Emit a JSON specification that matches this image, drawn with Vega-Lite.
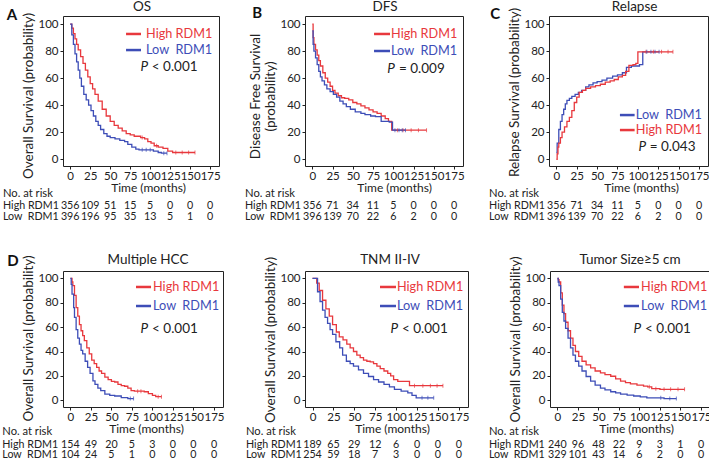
{
"$schema":"https://vega.github.io/schema/vega-lite/v6.json",
"padding":{"left":1,"top":-1,"right":0,"bottom":0},
"config":{"font":"Lato","view":{"stroke":"#222","strokeWidth":1},
"axis":{"grid":false,"domain":false,"tickColor":"#222","tickSize":3,"labelFontSize":11.5,"labelColor":"#222","titleFontWeight":"normal","titleColor":"#222","labelPadding":2,"titlePadding":2,"labelOverlap":false,"labelFlush":false},
"axisX":{"labelPadding":1,"titlePadding":1,"titleFontSize":12},
"axisY":{"titleFontSize":13.5},
"text":{"fontSize":10.7,"color":"#222","baseline":"middle"}},
"datasets":{
"km":[
{"p":"A","g":"High RDM1","t":0,"s":100},{"p":"A","g":"High RDM1","t":2,"s":97},{"p":"A","g":"High RDM1","t":4,"s":93},{"p":"A","g":"High RDM1","t":6,"s":89},{"p":"A","g":"High RDM1","t":8,"s":85},{"p":"A","g":"High RDM1","t":10,"s":81},{"p":"A","g":"High RDM1","t":13,"s":76},{"p":"A","g":"High RDM1","t":16,"s":71},{"p":"A","g":"High RDM1","t":19,"s":66},{"p":"A","g":"High RDM1","t":22,"s":61},{"p":"A","g":"High RDM1","t":25,"s":56},{"p":"A","g":"High RDM1","t":28,"s":52},{"p":"A","g":"High RDM1","t":31,"s":48},{"p":"A","g":"High RDM1","t":35,"s":43},{"p":"A","g":"High RDM1","t":40,"s":37},{"p":"A","g":"High RDM1","t":45,"s":32},{"p":"A","g":"High RDM1","t":50,"s":28},{"p":"A","g":"High RDM1","t":55,"s":25},{"p":"A","g":"High RDM1","t":60,"s":23},{"p":"A","g":"High RDM1","t":65,"s":21},{"p":"A","g":"High RDM1","t":70,"s":19},{"p":"A","g":"High RDM1","t":75,"s":18},{"p":"A","g":"High RDM1","t":80,"s":17},{"p":"A","g":"High RDM1","t":88,"s":16},{"p":"A","g":"High RDM1","t":93,"s":15},{"p":"A","g":"High RDM1","t":97,"s":13},{"p":"A","g":"High RDM1","t":101,"s":12},{"p":"A","g":"High RDM1","t":105,"s":10},{"p":"A","g":"High RDM1","t":110,"s":9},{"p":"A","g":"High RDM1","t":116,"s":8},{"p":"A","g":"High RDM1","t":122,"s":6},{"p":"A","g":"High RDM1","t":128,"s":5},{"p":"A","g":"High RDM1","t":156,"s":5},
{"p":"A","g":"Low RDM1","t":0,"s":100},{"p":"A","g":"Low RDM1","t":2,"s":92},{"p":"A","g":"Low RDM1","t":4,"s":85},{"p":"A","g":"Low RDM1","t":6,"s":78},{"p":"A","g":"Low RDM1","t":8,"s":72},{"p":"A","g":"Low RDM1","t":10,"s":66},{"p":"A","g":"Low RDM1","t":12,"s":60},{"p":"A","g":"Low RDM1","t":14,"s":54},{"p":"A","g":"Low RDM1","t":17,"s":48},{"p":"A","g":"Low RDM1","t":20,"s":44},{"p":"A","g":"Low RDM1","t":23,"s":40},{"p":"A","g":"Low RDM1","t":26,"s":36},{"p":"A","g":"Low RDM1","t":29,"s":32},{"p":"A","g":"Low RDM1","t":32,"s":28},{"p":"A","g":"Low RDM1","t":35,"s":25},{"p":"A","g":"Low RDM1","t":38,"s":22},{"p":"A","g":"Low RDM1","t":42,"s":19},{"p":"A","g":"Low RDM1","t":46,"s":17},{"p":"A","g":"Low RDM1","t":50,"s":16},{"p":"A","g":"Low RDM1","t":56,"s":15},{"p":"A","g":"Low RDM1","t":62,"s":14},{"p":"A","g":"Low RDM1","t":68,"s":13},{"p":"A","g":"Low RDM1","t":72,"s":11},{"p":"A","g":"Low RDM1","t":77,"s":9},{"p":"A","g":"Low RDM1","t":82,"s":7.5},{"p":"A","g":"Low RDM1","t":86,"s":7},{"p":"A","g":"Low RDM1","t":104,"s":6},{"p":"A","g":"Low RDM1","t":110,"s":5},{"p":"A","g":"Low RDM1","t":114,"s":4.5},{"p":"A","g":"Low RDM1","t":121,"s":4.5},
{"p":"B","g":"High RDM1","t":0,"s":100},{"p":"B","g":"High RDM1","t":1,"s":90},{"p":"B","g":"High RDM1","t":2,"s":85},{"p":"B","g":"High RDM1","t":4,"s":81},{"p":"B","g":"High RDM1","t":6,"s":77},{"p":"B","g":"High RDM1","t":8,"s":73},{"p":"B","g":"High RDM1","t":10,"s":69},{"p":"B","g":"High RDM1","t":13,"s":64},{"p":"B","g":"High RDM1","t":16,"s":60},{"p":"B","g":"High RDM1","t":19,"s":57},{"p":"B","g":"High RDM1","t":22,"s":54},{"p":"B","g":"High RDM1","t":25,"s":51},{"p":"B","g":"High RDM1","t":28,"s":49},{"p":"B","g":"High RDM1","t":32,"s":47},{"p":"B","g":"High RDM1","t":36,"s":45.5},{"p":"B","g":"High RDM1","t":40,"s":45},{"p":"B","g":"High RDM1","t":45,"s":44},{"p":"B","g":"High RDM1","t":50,"s":42},{"p":"B","g":"High RDM1","t":55,"s":41},{"p":"B","g":"High RDM1","t":60,"s":39.5},{"p":"B","g":"High RDM1","t":65,"s":38},{"p":"B","g":"High RDM1","t":70,"s":36.5},{"p":"B","g":"High RDM1","t":75,"s":35},{"p":"B","g":"High RDM1","t":80,"s":34},{"p":"B","g":"High RDM1","t":85,"s":32},{"p":"B","g":"High RDM1","t":90,"s":30},{"p":"B","g":"High RDM1","t":94,"s":28},{"p":"B","g":"High RDM1","t":98,"s":21.5},{"p":"B","g":"High RDM1","t":141,"s":21.5},
{"p":"B","g":"Low RDM1","t":0,"s":95},{"p":"B","g":"Low RDM1","t":1,"s":85},{"p":"B","g":"Low RDM1","t":2,"s":80},{"p":"B","g":"Low RDM1","t":4,"s":75},{"p":"B","g":"Low RDM1","t":6,"s":70},{"p":"B","g":"Low RDM1","t":8,"s":65},{"p":"B","g":"Low RDM1","t":10,"s":61},{"p":"B","g":"Low RDM1","t":12,"s":58},{"p":"B","g":"Low RDM1","t":15,"s":55},{"p":"B","g":"Low RDM1","t":18,"s":52},{"p":"B","g":"Low RDM1","t":22,"s":50},{"p":"B","g":"Low RDM1","t":26,"s":48},{"p":"B","g":"Low RDM1","t":30,"s":46},{"p":"B","g":"Low RDM1","t":34,"s":43},{"p":"B","g":"Low RDM1","t":38,"s":41},{"p":"B","g":"Low RDM1","t":42,"s":39},{"p":"B","g":"Low RDM1","t":47,"s":37},{"p":"B","g":"Low RDM1","t":53,"s":35},{"p":"B","g":"Low RDM1","t":60,"s":34},{"p":"B","g":"Low RDM1","t":65,"s":33},{"p":"B","g":"Low RDM1","t":72,"s":32},{"p":"B","g":"Low RDM1","t":78,"s":31.5},{"p":"B","g":"Low RDM1","t":85,"s":28},{"p":"B","g":"Low RDM1","t":95,"s":27.5},{"p":"B","g":"Low RDM1","t":99,"s":21.5},{"p":"B","g":"Low RDM1","t":115,"s":21.5},
{"p":"C","g":"Low RDM1","t":0,"s":5},{"p":"C","g":"Low RDM1","t":1,"s":12},{"p":"C","g":"Low RDM1","t":3,"s":22},{"p":"C","g":"Low RDM1","t":5,"s":28},{"p":"C","g":"Low RDM1","t":7,"s":33},{"p":"C","g":"Low RDM1","t":9,"s":37},{"p":"C","g":"Low RDM1","t":11,"s":41},{"p":"C","g":"Low RDM1","t":13,"s":43.5},{"p":"C","g":"Low RDM1","t":16,"s":45},{"p":"C","g":"Low RDM1","t":19,"s":46.5},{"p":"C","g":"Low RDM1","t":23,"s":48},{"p":"C","g":"Low RDM1","t":27,"s":49.5},{"p":"C","g":"Low RDM1","t":31,"s":51},{"p":"C","g":"Low RDM1","t":36,"s":53.5},{"p":"C","g":"Low RDM1","t":40,"s":55},{"p":"C","g":"Low RDM1","t":45,"s":56.5},{"p":"C","g":"Low RDM1","t":50,"s":57.5},{"p":"C","g":"Low RDM1","t":56,"s":58.5},{"p":"C","g":"Low RDM1","t":62,"s":60},{"p":"C","g":"Low RDM1","t":69,"s":61.5},{"p":"C","g":"Low RDM1","t":75,"s":62.5},{"p":"C","g":"Low RDM1","t":81,"s":64},{"p":"C","g":"Low RDM1","t":86,"s":68},{"p":"C","g":"Low RDM1","t":92,"s":69},{"p":"C","g":"Low RDM1","t":102,"s":70},{"p":"C","g":"Low RDM1","t":106,"s":79.5},{"p":"C","g":"Low RDM1","t":126,"s":79.5},
{"p":"C","g":"High RDM1","t":0,"s":0},{"p":"C","g":"High RDM1","t":1,"s":4},{"p":"C","g":"High RDM1","t":2,"s":9},{"p":"C","g":"High RDM1","t":3,"s":12},{"p":"C","g":"High RDM1","t":5,"s":16},{"p":"C","g":"High RDM1","t":7,"s":20},{"p":"C","g":"High RDM1","t":10,"s":24},{"p":"C","g":"High RDM1","t":13,"s":28},{"p":"C","g":"High RDM1","t":16,"s":31},{"p":"C","g":"High RDM1","t":19,"s":36},{"p":"C","g":"High RDM1","t":22,"s":42},{"p":"C","g":"High RDM1","t":25,"s":46},{"p":"C","g":"High RDM1","t":28,"s":49.5},{"p":"C","g":"High RDM1","t":32,"s":51},{"p":"C","g":"High RDM1","t":36,"s":52.5},{"p":"C","g":"High RDM1","t":42,"s":53.5},{"p":"C","g":"High RDM1","t":48,"s":54.5},{"p":"C","g":"High RDM1","t":54,"s":55.5},{"p":"C","g":"High RDM1","t":60,"s":57},{"p":"C","g":"High RDM1","t":66,"s":58},{"p":"C","g":"High RDM1","t":71,"s":59},{"p":"C","g":"High RDM1","t":76,"s":61},{"p":"C","g":"High RDM1","t":81,"s":62},{"p":"C","g":"High RDM1","t":85,"s":65},{"p":"C","g":"High RDM1","t":89,"s":69.5},{"p":"C","g":"High RDM1","t":94,"s":70},{"p":"C","g":"High RDM1","t":97.5,"s":71},{"p":"C","g":"High RDM1","t":100,"s":79.5},{"p":"C","g":"High RDM1","t":143,"s":79.5},
{"p":"D","g":"High RDM1","t":0,"s":100},{"p":"D","g":"High RDM1","t":2,"s":97},{"p":"D","g":"High RDM1","t":3,"s":94},{"p":"D","g":"High RDM1","t":5,"s":86},{"p":"D","g":"High RDM1","t":7,"s":76},{"p":"D","g":"High RDM1","t":9,"s":69},{"p":"D","g":"High RDM1","t":11,"s":62},{"p":"D","g":"High RDM1","t":13,"s":57},{"p":"D","g":"High RDM1","t":15,"s":53},{"p":"D","g":"High RDM1","t":17,"s":49},{"p":"D","g":"High RDM1","t":20,"s":43},{"p":"D","g":"High RDM1","t":23,"s":38},{"p":"D","g":"High RDM1","t":26,"s":33},{"p":"D","g":"High RDM1","t":29,"s":30},{"p":"D","g":"High RDM1","t":32,"s":27},{"p":"D","g":"High RDM1","t":35,"s":24},{"p":"D","g":"High RDM1","t":38,"s":22},{"p":"D","g":"High RDM1","t":42,"s":19},{"p":"D","g":"High RDM1","t":46,"s":17},{"p":"D","g":"High RDM1","t":50,"s":15.5},{"p":"D","g":"High RDM1","t":54,"s":15},{"p":"D","g":"High RDM1","t":58,"s":13},{"p":"D","g":"High RDM1","t":62,"s":12},{"p":"D","g":"High RDM1","t":66,"s":11.5},{"p":"D","g":"High RDM1","t":70,"s":10},{"p":"D","g":"High RDM1","t":74,"s":8},{"p":"D","g":"High RDM1","t":78,"s":7.5},{"p":"D","g":"High RDM1","t":90,"s":7},{"p":"D","g":"High RDM1","t":95,"s":5.5},{"p":"D","g":"High RDM1","t":100,"s":4},{"p":"D","g":"High RDM1","t":104,"s":3},{"p":"D","g":"High RDM1","t":111,"s":3},
{"p":"D","g":"Low RDM1","t":0,"s":100},{"p":"D","g":"Low RDM1","t":1,"s":95},{"p":"D","g":"Low RDM1","t":2,"s":87},{"p":"D","g":"Low RDM1","t":4,"s":76},{"p":"D","g":"Low RDM1","t":5,"s":68},{"p":"D","g":"Low RDM1","t":7,"s":58},{"p":"D","g":"Low RDM1","t":9,"s":51},{"p":"D","g":"Low RDM1","t":11,"s":46},{"p":"D","g":"Low RDM1","t":13,"s":41},{"p":"D","g":"Low RDM1","t":15,"s":38},{"p":"D","g":"Low RDM1","t":18,"s":32},{"p":"D","g":"Low RDM1","t":21,"s":27},{"p":"D","g":"Low RDM1","t":24,"s":22},{"p":"D","g":"Low RDM1","t":27.5,"s":16},{"p":"D","g":"Low RDM1","t":30,"s":13},{"p":"D","g":"Low RDM1","t":33.5,"s":10},{"p":"D","g":"Low RDM1","t":37,"s":8},{"p":"D","g":"Low RDM1","t":42,"s":5},{"p":"D","g":"Low RDM1","t":48,"s":4},{"p":"D","g":"Low RDM1","t":54,"s":3.5},{"p":"D","g":"Low RDM1","t":62,"s":2.2},{"p":"D","g":"Low RDM1","t":70,"s":1.4},{"p":"D","g":"Low RDM1","t":77,"s":1.4},
{"p":"E","g":"High RDM1","t":0,"s":100},{"p":"E","g":"High RDM1","t":3,"s":100},{"p":"E","g":"High RDM1","t":5,"s":96},{"p":"E","g":"High RDM1","t":8,"s":90},{"p":"E","g":"High RDM1","t":12,"s":82},{"p":"E","g":"High RDM1","t":16,"s":75},{"p":"E","g":"High RDM1","t":20,"s":69},{"p":"E","g":"High RDM1","t":24,"s":62},{"p":"E","g":"High RDM1","t":28.5,"s":56},{"p":"E","g":"High RDM1","t":32,"s":52},{"p":"E","g":"High RDM1","t":36.5,"s":49.5},{"p":"E","g":"High RDM1","t":41,"s":46},{"p":"E","g":"High RDM1","t":45,"s":43},{"p":"E","g":"High RDM1","t":49,"s":40},{"p":"E","g":"High RDM1","t":53,"s":37},{"p":"E","g":"High RDM1","t":57,"s":35},{"p":"E","g":"High RDM1","t":61,"s":33},{"p":"E","g":"High RDM1","t":65,"s":32},{"p":"E","g":"High RDM1","t":69,"s":31.5},{"p":"E","g":"High RDM1","t":73,"s":30},{"p":"E","g":"High RDM1","t":77,"s":28},{"p":"E","g":"High RDM1","t":81,"s":26},{"p":"E","g":"High RDM1","t":85.5,"s":24},{"p":"E","g":"High RDM1","t":90,"s":22},{"p":"E","g":"High RDM1","t":93.5,"s":20},{"p":"E","g":"High RDM1","t":97,"s":17},{"p":"E","g":"High RDM1","t":102,"s":15.5},{"p":"E","g":"High RDM1","t":116,"s":12},{"p":"E","g":"High RDM1","t":156,"s":12},
{"p":"E","g":"Low RDM1","t":0,"s":100},{"p":"E","g":"Low RDM1","t":4,"s":100},{"p":"E","g":"Low RDM1","t":6,"s":89},{"p":"E","g":"Low RDM1","t":9,"s":81},{"p":"E","g":"Low RDM1","t":12,"s":74},{"p":"E","g":"Low RDM1","t":15,"s":68},{"p":"E","g":"Low RDM1","t":18,"s":63},{"p":"E","g":"Low RDM1","t":21,"s":58},{"p":"E","g":"Low RDM1","t":24,"s":54},{"p":"E","g":"Low RDM1","t":28,"s":48},{"p":"E","g":"Low RDM1","t":32.5,"s":43},{"p":"E","g":"Low RDM1","t":36,"s":37},{"p":"E","g":"Low RDM1","t":40.5,"s":32},{"p":"E","g":"Low RDM1","t":45,"s":30},{"p":"E","g":"Low RDM1","t":49,"s":28},{"p":"E","g":"Low RDM1","t":55,"s":25},{"p":"E","g":"Low RDM1","t":61,"s":22},{"p":"E","g":"Low RDM1","t":67,"s":19.5},{"p":"E","g":"Low RDM1","t":73,"s":17},{"p":"E","g":"Low RDM1","t":79,"s":15},{"p":"E","g":"Low RDM1","t":85.5,"s":13},{"p":"E","g":"Low RDM1","t":92,"s":11},{"p":"E","g":"Low RDM1","t":98,"s":9},{"p":"E","g":"Low RDM1","t":106,"s":7.5},{"p":"E","g":"Low RDM1","t":114,"s":6},{"p":"E","g":"Low RDM1","t":119,"s":4},{"p":"E","g":"Low RDM1","t":124,"s":2},{"p":"E","g":"Low RDM1","t":145,"s":2},
{"p":"F","g":"High RDM1","t":0,"s":100},{"p":"F","g":"High RDM1","t":1,"s":99},{"p":"F","g":"High RDM1","t":2,"s":97},{"p":"F","g":"High RDM1","t":4,"s":88},{"p":"F","g":"High RDM1","t":6,"s":78},{"p":"F","g":"High RDM1","t":8,"s":71},{"p":"F","g":"High RDM1","t":10,"s":64},{"p":"F","g":"High RDM1","t":13,"s":57},{"p":"F","g":"High RDM1","t":16,"s":51},{"p":"F","g":"High RDM1","t":19,"s":45},{"p":"F","g":"High RDM1","t":22,"s":40},{"p":"F","g":"High RDM1","t":26,"s":36},{"p":"F","g":"High RDM1","t":30,"s":32},{"p":"F","g":"High RDM1","t":35,"s":29},{"p":"F","g":"High RDM1","t":40.5,"s":26.5},{"p":"F","g":"High RDM1","t":46,"s":24},{"p":"F","g":"High RDM1","t":52.5,"s":22.4},{"p":"F","g":"High RDM1","t":58,"s":21},{"p":"F","g":"High RDM1","t":65,"s":19.7},{"p":"F","g":"High RDM1","t":71,"s":17.5},{"p":"F","g":"High RDM1","t":77,"s":15.7},{"p":"F","g":"High RDM1","t":83,"s":14.5},{"p":"F","g":"High RDM1","t":89,"s":13.5},{"p":"F","g":"High RDM1","t":97,"s":12.5},{"p":"F","g":"High RDM1","t":105,"s":11.6},{"p":"F","g":"High RDM1","t":110,"s":11},{"p":"F","g":"High RDM1","t":115,"s":9.5},{"p":"F","g":"High RDM1","t":125,"s":9},{"p":"F","g":"High RDM1","t":155,"s":9},
{"p":"F","g":"Low RDM1","t":0,"s":100},{"p":"F","g":"Low RDM1","t":1,"s":97},{"p":"F","g":"Low RDM1","t":2,"s":94},{"p":"F","g":"Low RDM1","t":4,"s":83},{"p":"F","g":"Low RDM1","t":6,"s":72},{"p":"F","g":"Low RDM1","t":8,"s":65},{"p":"F","g":"Low RDM1","t":10,"s":59},{"p":"F","g":"Low RDM1","t":13,"s":51},{"p":"F","g":"Low RDM1","t":16,"s":43},{"p":"F","g":"Low RDM1","t":19,"s":37},{"p":"F","g":"Low RDM1","t":22,"s":32},{"p":"F","g":"Low RDM1","t":26,"s":28},{"p":"F","g":"Low RDM1","t":30,"s":24},{"p":"F","g":"Low RDM1","t":35,"s":19.5},{"p":"F","g":"Low RDM1","t":40.5,"s":15.7},{"p":"F","g":"Low RDM1","t":46,"s":12.5},{"p":"F","g":"Low RDM1","t":52.5,"s":10},{"p":"F","g":"Low RDM1","t":58,"s":8.5},{"p":"F","g":"Low RDM1","t":65,"s":7},{"p":"F","g":"Low RDM1","t":71,"s":6},{"p":"F","g":"Low RDM1","t":77,"s":5},{"p":"F","g":"Low RDM1","t":85,"s":4.3},{"p":"F","g":"Low RDM1","t":93,"s":3.5},{"p":"F","g":"Low RDM1","t":101,"s":2.8},{"p":"F","g":"Low RDM1","t":109,"s":2},{"p":"F","g":"Low RDM1","t":120,"s":2},{"p":"F","g":"Low RDM1","t":130,"s":1.4},{"p":"F","g":"Low RDM1","t":145,"s":1.4}
],
"censor":[
{"p":"A","g":"High RDM1","t":90,"s":16},{"p":"A","g":"High RDM1","t":108,"s":10},{"p":"A","g":"High RDM1","t":132,"s":5},{"p":"A","g":"High RDM1","t":140,"s":5},{"p":"A","g":"High RDM1","t":148,"s":5},{"p":"A","g":"High RDM1","t":156,"s":5},
{"p":"A","g":"Low RDM1","t":90,"s":7},{"p":"A","g":"Low RDM1","t":95,"s":7},{"p":"A","g":"Low RDM1","t":100,"s":7},{"p":"A","g":"Low RDM1","t":117,"s":4.5},{"p":"A","g":"Low RDM1","t":121,"s":4.5},
{"p":"B","g":"High RDM1","t":105,"s":21.5},{"p":"B","g":"High RDM1","t":112,"s":21.5},{"p":"B","g":"High RDM1","t":122,"s":21.5},{"p":"B","g":"High RDM1","t":131,"s":21.5},{"p":"B","g":"High RDM1","t":141,"s":21.5},
{"p":"B","g":"Low RDM1","t":102,"s":21.5},{"p":"B","g":"Low RDM1","t":107,"s":21.5},{"p":"B","g":"Low RDM1","t":111,"s":21.5},{"p":"B","g":"Low RDM1","t":115,"s":21.5},
{"p":"C","g":"High RDM1","t":110,"s":79.5},{"p":"C","g":"High RDM1","t":119,"s":79.5},{"p":"C","g":"High RDM1","t":129,"s":79.5},{"p":"C","g":"High RDM1","t":137,"s":79.5},{"p":"C","g":"High RDM1","t":143,"s":79.5},
{"p":"C","g":"Low RDM1","t":111,"s":79.5},{"p":"C","g":"Low RDM1","t":116,"s":79.5},{"p":"C","g":"Low RDM1","t":121,"s":79.5},{"p":"C","g":"Low RDM1","t":126,"s":79.5},
{"p":"D","g":"High RDM1","t":82,"s":7.5},{"p":"D","g":"High RDM1","t":86,"s":7.5},{"p":"D","g":"High RDM1","t":107,"s":3},{"p":"D","g":"High RDM1","t":111,"s":3},
{"p":"D","g":"Low RDM1","t":73,"s":1.4},{"p":"D","g":"Low RDM1","t":77,"s":1.4},
{"p":"E","g":"High RDM1","t":122,"s":12},{"p":"E","g":"High RDM1","t":132,"s":12},{"p":"E","g":"High RDM1","t":141,"s":12},{"p":"E","g":"High RDM1","t":149,"s":12},{"p":"E","g":"High RDM1","t":156,"s":12},
{"p":"E","g":"Low RDM1","t":131,"s":2},{"p":"E","g":"Low RDM1","t":138,"s":2},{"p":"E","g":"Low RDM1","t":145,"s":2},
{"p":"F","g":"High RDM1","t":112,"s":11},{"p":"F","g":"High RDM1","t":120,"s":9.5},{"p":"F","g":"High RDM1","t":130,"s":9},{"p":"F","g":"High RDM1","t":138,"s":9},{"p":"F","g":"High RDM1","t":147,"s":9},{"p":"F","g":"High RDM1","t":155,"s":9},
{"p":"F","g":"Low RDM1","t":126,"s":2},{"p":"F","g":"Low RDM1","t":137,"s":1.4},{"p":"F","g":"Low RDM1","t":145,"s":1.4}
],
"risk":[
{"p":"A","g":"High RDM1","t":0,"n":356},{"p":"A","g":"High RDM1","t":25,"n":109},{"p":"A","g":"High RDM1","t":50,"n":51},{"p":"A","g":"High RDM1","t":75,"n":15},{"p":"A","g":"High RDM1","t":100,"n":5},{"p":"A","g":"High RDM1","t":125,"n":0},{"p":"A","g":"High RDM1","t":150,"n":0},{"p":"A","g":"High RDM1","t":175,"n":0},
{"p":"A","g":"Low RDM1","t":0,"n":396},{"p":"A","g":"Low RDM1","t":25,"n":196},{"p":"A","g":"Low RDM1","t":50,"n":95},{"p":"A","g":"Low RDM1","t":75,"n":35},{"p":"A","g":"Low RDM1","t":100,"n":13},{"p":"A","g":"Low RDM1","t":125,"n":5},{"p":"A","g":"Low RDM1","t":150,"n":1},{"p":"A","g":"Low RDM1","t":175,"n":0},
{"p":"B","g":"High RDM1","t":0,"n":356},{"p":"B","g":"High RDM1","t":25,"n":71},{"p":"B","g":"High RDM1","t":50,"n":34},{"p":"B","g":"High RDM1","t":75,"n":11},{"p":"B","g":"High RDM1","t":100,"n":5},{"p":"B","g":"High RDM1","t":125,"n":0},{"p":"B","g":"High RDM1","t":150,"n":0},{"p":"B","g":"High RDM1","t":175,"n":0},
{"p":"B","g":"Low RDM1","t":0,"n":396},{"p":"B","g":"Low RDM1","t":25,"n":139},{"p":"B","g":"Low RDM1","t":50,"n":70},{"p":"B","g":"Low RDM1","t":75,"n":22},{"p":"B","g":"Low RDM1","t":100,"n":6},{"p":"B","g":"Low RDM1","t":125,"n":2},{"p":"B","g":"Low RDM1","t":150,"n":0},{"p":"B","g":"Low RDM1","t":175,"n":0},
{"p":"C","g":"High RDM1","t":0,"n":356},{"p":"C","g":"High RDM1","t":25,"n":71},{"p":"C","g":"High RDM1","t":50,"n":34},{"p":"C","g":"High RDM1","t":75,"n":11},{"p":"C","g":"High RDM1","t":100,"n":5},{"p":"C","g":"High RDM1","t":125,"n":0},{"p":"C","g":"High RDM1","t":150,"n":0},{"p":"C","g":"High RDM1","t":175,"n":0},
{"p":"C","g":"Low RDM1","t":0,"n":396},{"p":"C","g":"Low RDM1","t":25,"n":139},{"p":"C","g":"Low RDM1","t":50,"n":70},{"p":"C","g":"Low RDM1","t":75,"n":22},{"p":"C","g":"Low RDM1","t":100,"n":6},{"p":"C","g":"Low RDM1","t":125,"n":2},{"p":"C","g":"Low RDM1","t":150,"n":0},{"p":"C","g":"Low RDM1","t":175,"n":0},
{"p":"D","g":"High RDM1","t":0,"n":154},{"p":"D","g":"High RDM1","t":25,"n":49},{"p":"D","g":"High RDM1","t":50,"n":20},{"p":"D","g":"High RDM1","t":75,"n":5},{"p":"D","g":"High RDM1","t":100,"n":3},{"p":"D","g":"High RDM1","t":125,"n":0},{"p":"D","g":"High RDM1","t":150,"n":0},{"p":"D","g":"High RDM1","t":175,"n":0},
{"p":"D","g":"Low RDM1","t":0,"n":104},{"p":"D","g":"Low RDM1","t":25,"n":24},{"p":"D","g":"Low RDM1","t":50,"n":5},{"p":"D","g":"Low RDM1","t":75,"n":1},{"p":"D","g":"Low RDM1","t":100,"n":0},{"p":"D","g":"Low RDM1","t":125,"n":0},{"p":"D","g":"Low RDM1","t":150,"n":0},{"p":"D","g":"Low RDM1","t":175,"n":0},
{"p":"E","g":"High RDM1","t":0,"n":189},{"p":"E","g":"High RDM1","t":25,"n":65},{"p":"E","g":"High RDM1","t":50,"n":29},{"p":"E","g":"High RDM1","t":75,"n":12},{"p":"E","g":"High RDM1","t":100,"n":6},{"p":"E","g":"High RDM1","t":125,"n":0},{"p":"E","g":"High RDM1","t":150,"n":0},{"p":"E","g":"High RDM1","t":175,"n":0},
{"p":"E","g":"Low RDM1","t":0,"n":254},{"p":"E","g":"Low RDM1","t":25,"n":59},{"p":"E","g":"Low RDM1","t":50,"n":18},{"p":"E","g":"Low RDM1","t":75,"n":7},{"p":"E","g":"Low RDM1","t":100,"n":3},{"p":"E","g":"Low RDM1","t":125,"n":0},{"p":"E","g":"Low RDM1","t":150,"n":0},{"p":"E","g":"Low RDM1","t":175,"n":0},
{"p":"F","g":"High RDM1","t":0,"n":240},{"p":"F","g":"High RDM1","t":25,"n":96},{"p":"F","g":"High RDM1","t":50,"n":48},{"p":"F","g":"High RDM1","t":75,"n":22},{"p":"F","g":"High RDM1","t":100,"n":9},{"p":"F","g":"High RDM1","t":125,"n":3},{"p":"F","g":"High RDM1","t":150,"n":1},{"p":"F","g":"High RDM1","t":175,"n":0},
{"p":"F","g":"Low RDM1","t":0,"n":329},{"p":"F","g":"Low RDM1","t":25,"n":101},{"p":"F","g":"Low RDM1","t":50,"n":43},{"p":"F","g":"Low RDM1","t":75,"n":14},{"p":"F","g":"Low RDM1","t":100,"n":6},{"p":"F","g":"Low RDM1","t":125,"n":2},{"p":"F","g":"Low RDM1","t":150,"n":0},{"p":"F","g":"Low RDM1","t":175,"n":0}
]},
"bounds":"flush","spacing":255,
"resolve":{"scale":{"x":"independent","y":"independent"}},
"vconcat":[
{"hconcat":[
{"width":156,"height":150,"data":{"values":[{}]},
"layer":[
{"data":{"name":"km"},"transform":[{"filter":"datum.p==='A'"}],"mark":{"type":"line","interpolate":"step-after","strokeWidth":1.3},
"encoding":{"x":{"field":"t","type":"quantitative","scale":{"domain":[-9,186],"nice":false,"zero":false},"axis":{"title":"Time (months)","values":[0,25,50,75,100,125,150,175],"labelOverlap":false,"titleX":85}},
"y":{"field":"s","type":"quantitative","scale":{"domain":[-5,106],"nice":false,"zero":false},"axis":{"title":"Overall Survival (probability)","values":[0,20,40,60,80,100],"labelOverlap":false,"titleY":79.5}},
"color":{"field":"g","type":"nominal","scale":{"domain":["High RDM1","Low RDM1"],"range":["#e8383d","#3d4db7"]},"legend":null}}},
{"data":{"name":"censor"},"transform":[{"filter":"datum.p==='A'"}],"mark":{"type":"tick","orient":"vertical","size":4,"thickness":1},"encoding":{"x":{"field":"t","type":"quantitative","axis":{"title":"Time (months)","values":[0,25,50,75,100,125,150,175],"labelOverlap":false,"titleX":85}},"y":{"field":"s","type":"quantitative","axis":{"title":"Overall Survival (probability)","values":[0,20,40,60,80,100],"labelOverlap":false,"titleY":79.5}},"color":{"field":"g","type":"nominal","legend":null}}},
{"mark":{"type":"text","text":"OS","fontSize":13.5},"encoding":{"x":{"datum":89.7,"type":"quantitative","axis":{"title":"Time (months)","values":[0,25,50,75,100,125,150,175],"labelOverlap":false,"titleX":85}},"y":{"datum":112.7,"type":"quantitative","axis":{"title":"Overall Survival (probability)","values":[0,20,40,60,80,100],"labelOverlap":false,"titleY":79.5}}}},
{"mark":{"type":"text","text":"A","fontWeight":"bold","fontSize":15,"color":"#111"},"encoding":{"x":{"datum":-72.8,"type":"quantitative","axis":{"title":"Time (months)","values":[0,25,50,75,100,125,150,175],"labelOverlap":false,"titleX":85}},"y":{"datum":106.7,"type":"quantitative","axis":{"title":"Overall Survival (probability)","values":[0,20,40,60,80,100],"labelOverlap":false,"titleY":79.5}}}},
{"mark":{"type":"rule","strokeWidth":2.5},"encoding":{"x":{"datum":69.8,"type":"quantitative","axis":{"title":"Time (months)","values":[0,25,50,75,100,125,150,175],"labelOverlap":false,"titleX":85}},"x2":{"datum":88.5},"y":{"datum":92.7,"type":"quantitative","axis":{"title":"Overall Survival (probability)","values":[0,20,40,60,80,100],"labelOverlap":false,"titleY":79.5}},"color":{"datum":"High RDM1","type":"nominal","legend":null}}},
{"mark":{"type":"rule","strokeWidth":2.5},"encoding":{"x":{"datum":69.8,"type":"quantitative","axis":{"title":"Time (months)","values":[0,25,50,75,100,125,150,175],"labelOverlap":false,"titleX":85}},"x2":{"datum":88.5},"y":{"datum":80.8,"type":"quantitative","axis":{"title":"Overall Survival (probability)","values":[0,20,40,60,80,100],"labelOverlap":false,"titleY":79.5}},"color":{"datum":"Low RDM1","type":"nominal","legend":null}}},
{"mark":{"type":"text","text":"High RDM1","align":"left","fontSize":12.7},"encoding":{"x":{"datum":94.8,"type":"quantitative","axis":{"title":"Time (months)","values":[0,25,50,75,100,125,150,175],"labelOverlap":false,"titleX":85}},"y":{"datum":92.7,"type":"quantitative","axis":{"title":"Overall Survival (probability)","values":[0,20,40,60,80,100],"labelOverlap":false,"titleY":79.5}},"color":{"datum":"High RDM1","type":"nominal","legend":null}}},
{"mark":{"type":"text","text":"Low\u00a0 RDM1","align":"left","fontSize":12.7},"encoding":{"x":{"datum":94.8,"type":"quantitative","axis":{"title":"Time (months)","values":[0,25,50,75,100,125,150,175],"labelOverlap":false,"titleX":85}},"y":{"datum":80.8,"type":"quantitative","axis":{"title":"Overall Survival (probability)","values":[0,20,40,60,80,100],"labelOverlap":false,"titleY":79.5}},"color":{"datum":"Low RDM1","type":"nominal","legend":null}}},
{"mark":{"type":"text","text":"P","align":"right","fontStyle":"italic","fontSize":13.5},"encoding":{"x":{"datum":97.3,"type":"quantitative","axis":{"title":"Time (months)","values":[0,25,50,75,100,125,150,175],"labelOverlap":false,"titleX":85}},"y":{"datum":68.2,"type":"quantitative","axis":{"title":"Overall Survival (probability)","values":[0,20,40,60,80,100],"labelOverlap":false,"titleY":79.5}}}},
{"mark":{"type":"text","text":"< 0.001","align":"left","fontSize":13.5},"encoding":{"x":{"datum":102,"type":"quantitative","axis":{"title":"Time (months)","values":[0,25,50,75,100,125,150,175],"labelOverlap":false,"titleX":85}},"y":{"datum":68.2,"type":"quantitative","axis":{"title":"Overall Survival (probability)","values":[0,20,40,60,80,100],"labelOverlap":false,"titleY":79.5}}}},
{"mark":{"type":"text","text":"No. at risk","align":"left","fontSize":11.2},"encoding":{"x":{"datum":-84,"type":"quantitative","axis":{"title":"Time (months)","values":[0,25,50,75,100,125,150,175],"labelOverlap":false,"titleX":85}},"y":{"datum":-25.8,"type":"quantitative","axis":{"title":"Overall Survival (probability)","values":[0,20,40,60,80,100],"labelOverlap":false,"titleY":79.5}}}},
{"mark":{"type":"text","text":"High RDM1","align":"left"},"encoding":{"x":{"datum":-84,"type":"quantitative","axis":{"title":"Time (months)","values":[0,25,50,75,100,125,150,175],"labelOverlap":false,"titleX":85}},"y":{"datum":-34.6,"type":"quantitative","axis":{"title":"Overall Survival (probability)","values":[0,20,40,60,80,100],"labelOverlap":false,"titleY":79.5}}}},
{"mark":{"type":"text","text":"Low\u00a0 RDM1","align":"left"},"encoding":{"x":{"datum":-84,"type":"quantitative","axis":{"title":"Time (months)","values":[0,25,50,75,100,125,150,175],"labelOverlap":false,"titleX":85}},"y":{"datum":-42.8,"type":"quantitative","axis":{"title":"Overall Survival (probability)","values":[0,20,40,60,80,100],"labelOverlap":false,"titleY":79.5}}}},
{"data":{"name":"risk"},"transform":[{"filter":"datum.p==='A' && datum.g==='High RDM1'"}],"mark":{"type":"text"},"encoding":{"x":{"field":"t","type":"quantitative","axis":{"title":"Time (months)","values":[0,25,50,75,100,125,150,175],"labelOverlap":false,"titleX":85}},"y":{"datum":-34.6,"type":"quantitative","axis":{"title":"Overall Survival (probability)","values":[0,20,40,60,80,100],"labelOverlap":false,"titleY":79.5}},"text":{"field":"n"}}},
{"data":{"name":"risk"},"transform":[{"filter":"datum.p==='A' && datum.g==='Low RDM1'"}],"mark":{"type":"text"},"encoding":{"x":{"field":"t","type":"quantitative","axis":{"title":"Time (months)","values":[0,25,50,75,100,125,150,175],"labelOverlap":false,"titleX":85}},"y":{"datum":-42.8,"type":"quantitative","axis":{"title":"Overall Survival (probability)","values":[0,20,40,60,80,100],"labelOverlap":false,"titleY":79.5}},"text":{"field":"n"}}}
]},
{"width":158,"height":150,"data":{"values":[{}]},
"layer":[
{"data":{"name":"km"},"transform":[{"filter":"datum.p==='B'"}],"mark":{"type":"line","interpolate":"step-after","strokeWidth":1.3},
"encoding":{"x":{"field":"t","type":"quantitative","scale":{"domain":[-9,186],"nice":false,"zero":false},"axis":{"title":"Time (months)","values":[0,25,50,75,100,125,150,175],"labelOverlap":false,"titleX":89}},
"y":{"field":"s","type":"quantitative","scale":{"domain":[-5,106],"nice":false,"zero":false},"axis":{"title":["Disease Free Survival","(probability)"],"values":[0,20,40,60,80,100],"labelOverlap":false,"titleY":80}},
"color":{"field":"g","type":"nominal","legend":null}}},
{"data":{"name":"censor"},"transform":[{"filter":"datum.p==='B'"}],"mark":{"type":"tick","orient":"vertical","size":4,"thickness":1},"encoding":{"x":{"field":"t","type":"quantitative","axis":{"title":"Time (months)","values":[0,25,50,75,100,125,150,175],"labelOverlap":false,"titleX":89}},"y":{"field":"s","type":"quantitative","axis":{"title":["Disease Free Survival","(probability)"],"values":[0,20,40,60,80,100],"labelOverlap":false,"titleY":80}},"color":{"field":"g","type":"nominal","legend":null}}},
{"mark":{"type":"text","text":"DFS","fontSize":13.5},"encoding":{"x":{"datum":89.8,"type":"quantitative","axis":{"title":"Time (months)","values":[0,25,50,75,100,125,150,175],"labelOverlap":false,"titleX":89}},"y":{"datum":112.7,"type":"quantitative","axis":{"title":["Disease Free Survival","(probability)"],"values":[0,20,40,60,80,100],"labelOverlap":false,"titleY":80}}}},
{"mark":{"type":"text","text":"B","fontWeight":"bold","fontSize":15,"color":"#111"},"encoding":{"x":{"datum":-68,"type":"quantitative","axis":{"title":"Time (months)","values":[0,25,50,75,100,125,150,175],"labelOverlap":false,"titleX":89}},"y":{"datum":108,"type":"quantitative","axis":{"title":["Disease Free Survival","(probability)"],"values":[0,20,40,60,80,100],"labelOverlap":false,"titleY":80}}}},
{"mark":{"type":"rule","strokeWidth":2.5},"encoding":{"x":{"datum":76.2,"type":"quantitative","axis":{"title":"Time (months)","values":[0,25,50,75,100,125,150,175],"labelOverlap":false,"titleX":89}},"x2":{"datum":95.9},"y":{"datum":92.7,"type":"quantitative","axis":{"title":["Disease Free Survival","(probability)"],"values":[0,20,40,60,80,100],"labelOverlap":false,"titleY":80}},"color":{"datum":"High RDM1","type":"nominal","legend":null}}},
{"mark":{"type":"rule","strokeWidth":2.5},"encoding":{"x":{"datum":76.2,"type":"quantitative","axis":{"title":"Time (months)","values":[0,25,50,75,100,125,150,175],"labelOverlap":false,"titleX":89}},"x2":{"datum":95.9},"y":{"datum":80.1,"type":"quantitative","axis":{"title":["Disease Free Survival","(probability)"],"values":[0,20,40,60,80,100],"labelOverlap":false,"titleY":80}},"color":{"datum":"Low RDM1","type":"nominal","legend":null}}},
{"mark":{"type":"text","text":"High RDM1","align":"left","fontSize":12.7},"encoding":{"x":{"datum":97.2,"type":"quantitative","axis":{"title":"Time (months)","values":[0,25,50,75,100,125,150,175],"labelOverlap":false,"titleX":89}},"y":{"datum":92.7,"type":"quantitative","axis":{"title":["Disease Free Survival","(probability)"],"values":[0,20,40,60,80,100],"labelOverlap":false,"titleY":80}},"color":{"datum":"High RDM1","type":"nominal","legend":null}}},
{"mark":{"type":"text","text":"Low\u00a0 RDM1","align":"left","fontSize":12.7},"encoding":{"x":{"datum":97.2,"type":"quantitative","axis":{"title":"Time (months)","values":[0,25,50,75,100,125,150,175],"labelOverlap":false,"titleX":89}},"y":{"datum":80.1,"type":"quantitative","axis":{"title":["Disease Free Survival","(probability)"],"values":[0,20,40,60,80,100],"labelOverlap":false,"titleY":80}},"color":{"datum":"Low RDM1","type":"nominal","legend":null}}},
{"mark":{"type":"text","text":"P","align":"right","fontStyle":"italic","fontSize":13.5},"encoding":{"x":{"datum":102,"type":"quantitative","axis":{"title":"Time (months)","values":[0,25,50,75,100,125,150,175],"labelOverlap":false,"titleX":89}},"y":{"datum":66.8,"type":"quantitative","axis":{"title":["Disease Free Survival","(probability)"],"values":[0,20,40,60,80,100],"labelOverlap":false,"titleY":80}}}},
{"mark":{"type":"text","text":"= 0.009","align":"left","fontSize":13.5},"encoding":{"x":{"datum":107,"type":"quantitative","axis":{"title":"Time (months)","values":[0,25,50,75,100,125,150,175],"labelOverlap":false,"titleX":89}},"y":{"datum":66.8,"type":"quantitative","axis":{"title":["Disease Free Survival","(probability)"],"values":[0,20,40,60,80,100],"labelOverlap":false,"titleY":80}}}},
{"mark":{"type":"text","text":"No. at risk","align":"left","fontSize":11.2},"encoding":{"x":{"datum":-83,"type":"quantitative","axis":{"title":"Time (months)","values":[0,25,50,75,100,125,150,175],"labelOverlap":false,"titleX":89}},"y":{"datum":-25.8,"type":"quantitative","axis":{"title":["Disease Free Survival","(probability)"],"values":[0,20,40,60,80,100],"labelOverlap":false,"titleY":80}}}},
{"mark":{"type":"text","text":"High RDM1","align":"left"},"encoding":{"x":{"datum":-83,"type":"quantitative","axis":{"title":"Time (months)","values":[0,25,50,75,100,125,150,175],"labelOverlap":false,"titleX":89}},"y":{"datum":-34.6,"type":"quantitative","axis":{"title":["Disease Free Survival","(probability)"],"values":[0,20,40,60,80,100],"labelOverlap":false,"titleY":80}}}},
{"mark":{"type":"text","text":"Low\u00a0 RDM1","align":"left"},"encoding":{"x":{"datum":-83,"type":"quantitative","axis":{"title":"Time (months)","values":[0,25,50,75,100,125,150,175],"labelOverlap":false,"titleX":89}},"y":{"datum":-42.8,"type":"quantitative","axis":{"title":["Disease Free Survival","(probability)"],"values":[0,20,40,60,80,100],"labelOverlap":false,"titleY":80}}}},
{"data":{"name":"risk"},"transform":[{"filter":"datum.p==='B' && datum.g==='High RDM1'"}],"mark":{"type":"text"},"encoding":{"x":{"field":"t","type":"quantitative","axis":{"title":"Time (months)","values":[0,25,50,75,100,125,150,175],"labelOverlap":false,"titleX":89}},"y":{"datum":-34.6,"type":"quantitative","axis":{"title":["Disease Free Survival","(probability)"],"values":[0,20,40,60,80,100],"labelOverlap":false,"titleY":80}},"text":{"field":"n"}}},
{"data":{"name":"risk"},"transform":[{"filter":"datum.p==='B' && datum.g==='Low RDM1'"}],"mark":{"type":"text"},"encoding":{"x":{"field":"t","type":"quantitative","axis":{"title":"Time (months)","values":[0,25,50,75,100,125,150,175],"labelOverlap":false,"titleX":89}},"y":{"datum":-42.8,"type":"quantitative","axis":{"title":["Disease Free Survival","(probability)"],"values":[0,20,40,60,80,100],"labelOverlap":false,"titleY":80}},"text":{"field":"n"}}}
]},
{"width":159,"height":150,"data":{"values":[{}]},
"layer":[
{"data":{"name":"km"},"transform":[{"filter":"datum.p==='C'"}],"mark":{"type":"line","interpolate":"step-after","strokeWidth":1.3},
"encoding":{"x":{"field":"t","type":"quantitative","scale":{"domain":[-9,186],"nice":false,"zero":false},"axis":{"title":"Time (months)","values":[0,25,50,75,100,125,150,175],"labelOverlap":false,"titleX":92}},
"y":{"field":"s","type":"quantitative","scale":{"domain":[-5,106],"nice":false,"zero":false},"axis":{"title":"Relapse Survival (probability)","values":[0,20,40,60,80,100],"labelOverlap":false,"titleY":76}},
"color":{"field":"g","type":"nominal","legend":null}}},
{"data":{"name":"censor"},"transform":[{"filter":"datum.p==='C'"}],"mark":{"type":"tick","orient":"vertical","size":4,"thickness":1},"encoding":{"x":{"field":"t","type":"quantitative","axis":{"title":"Time (months)","values":[0,25,50,75,100,125,150,175],"labelOverlap":false,"titleX":92}},"y":{"field":"s","type":"quantitative","axis":{"title":"Relapse Survival (probability)","values":[0,20,40,60,80,100],"labelOverlap":false,"titleY":76}},"color":{"field":"g","type":"nominal","legend":null}}},
{"mark":{"type":"text","text":"Relapse","fontSize":13.5},"encoding":{"x":{"datum":96,"type":"quantitative","axis":{"title":"Time (months)","values":[0,25,50,75,100,125,150,175],"labelOverlap":false,"titleX":92}},"y":{"datum":112.7,"type":"quantitative","axis":{"title":"Relapse Survival (probability)","values":[0,20,40,60,80,100],"labelOverlap":false,"titleY":76}}}},
{"mark":{"type":"text","text":"C","fontWeight":"bold","fontSize":15,"color":"#111"},"encoding":{"x":{"datum":-75,"type":"quantitative","axis":{"title":"Time (months)","values":[0,25,50,75,100,125,150,175],"labelOverlap":false,"titleX":92}},"y":{"datum":107.5,"type":"quantitative","axis":{"title":"Relapse Survival (probability)","values":[0,20,40,60,80,100],"labelOverlap":false,"titleY":76}}}},
{"mark":{"type":"rule","strokeWidth":2.5},"encoding":{"x":{"datum":78,"type":"quantitative","axis":{"title":"Time (months)","values":[0,25,50,75,100,125,150,175],"labelOverlap":false,"titleX":92}},"x2":{"datum":96},"y":{"datum":32.7,"type":"quantitative","axis":{"title":"Relapse Survival (probability)","values":[0,20,40,60,80,100],"labelOverlap":false,"titleY":76}},"color":{"datum":"Low RDM1","type":"nominal","legend":null}}},
{"mark":{"type":"rule","strokeWidth":2.5},"encoding":{"x":{"datum":78,"type":"quantitative","axis":{"title":"Time (months)","values":[0,25,50,75,100,125,150,175],"labelOverlap":false,"titleX":92}},"x2":{"datum":96},"y":{"datum":21.6,"type":"quantitative","axis":{"title":"Relapse Survival (probability)","values":[0,20,40,60,80,100],"labelOverlap":false,"titleY":76}},"color":{"datum":"High RDM1","type":"nominal","legend":null}}},
{"mark":{"type":"text","text":"Low\u00a0 RDM1","align":"left","fontSize":12.7},"encoding":{"x":{"datum":97.5,"type":"quantitative","axis":{"title":"Time (months)","values":[0,25,50,75,100,125,150,175],"labelOverlap":false,"titleX":92}},"y":{"datum":32.7,"type":"quantitative","axis":{"title":"Relapse Survival (probability)","values":[0,20,40,60,80,100],"labelOverlap":false,"titleY":76}},"color":{"datum":"Low RDM1","type":"nominal","legend":null}}},
{"mark":{"type":"text","text":"High RDM1","align":"left","fontSize":12.7},"encoding":{"x":{"datum":97.5,"type":"quantitative","axis":{"title":"Time (months)","values":[0,25,50,75,100,125,150,175],"labelOverlap":false,"titleX":92}},"y":{"datum":21.6,"type":"quantitative","axis":{"title":"Relapse Survival (probability)","values":[0,20,40,60,80,100],"labelOverlap":false,"titleY":76}},"color":{"datum":"High RDM1","type":"nominal","legend":null}}},
{"mark":{"type":"text","text":"P","align":"right","fontStyle":"italic","fontSize":13.5},"encoding":{"x":{"datum":110,"type":"quantitative","axis":{"title":"Time (months)","values":[0,25,50,75,100,125,150,175],"labelOverlap":false,"titleX":92}},"y":{"datum":9,"type":"quantitative","axis":{"title":"Relapse Survival (probability)","values":[0,20,40,60,80,100],"labelOverlap":false,"titleY":76}}}},
{"mark":{"type":"text","text":"= 0.043","align":"left","fontSize":13.5},"encoding":{"x":{"datum":114.5,"type":"quantitative","axis":{"title":"Time (months)","values":[0,25,50,75,100,125,150,175],"labelOverlap":false,"titleX":92}},"y":{"datum":9,"type":"quantitative","axis":{"title":"Relapse Survival (probability)","values":[0,20,40,60,80,100],"labelOverlap":false,"titleY":76}}}},
{"mark":{"type":"text","text":"No. at risk","align":"left","fontSize":11.2},"encoding":{"x":{"datum":-82.5,"type":"quantitative","axis":{"title":"Time (months)","values":[0,25,50,75,100,125,150,175],"labelOverlap":false,"titleX":92}},"y":{"datum":-25.8,"type":"quantitative","axis":{"title":"Relapse Survival (probability)","values":[0,20,40,60,80,100],"labelOverlap":false,"titleY":76}}}},
{"mark":{"type":"text","text":"High RDM1","align":"left"},"encoding":{"x":{"datum":-82.5,"type":"quantitative","axis":{"title":"Time (months)","values":[0,25,50,75,100,125,150,175],"labelOverlap":false,"titleX":92}},"y":{"datum":-34.6,"type":"quantitative","axis":{"title":"Relapse Survival (probability)","values":[0,20,40,60,80,100],"labelOverlap":false,"titleY":76}}}},
{"mark":{"type":"text","text":"Low\u00a0 RDM1","align":"left"},"encoding":{"x":{"datum":-82.5,"type":"quantitative","axis":{"title":"Time (months)","values":[0,25,50,75,100,125,150,175],"labelOverlap":false,"titleX":92}},"y":{"datum":-42.8,"type":"quantitative","axis":{"title":"Relapse Survival (probability)","values":[0,20,40,60,80,100],"labelOverlap":false,"titleY":76}}}},
{"data":{"name":"risk"},"transform":[{"filter":"datum.p==='C' && datum.g==='High RDM1'"}],"mark":{"type":"text"},"encoding":{"x":{"field":"t","type":"quantitative","axis":{"title":"Time (months)","values":[0,25,50,75,100,125,150,175],"labelOverlap":false,"titleX":92}},"y":{"datum":-34.6,"type":"quantitative","axis":{"title":"Relapse Survival (probability)","values":[0,20,40,60,80,100],"labelOverlap":false,"titleY":76}},"text":{"field":"n"}}},
{"data":{"name":"risk"},"transform":[{"filter":"datum.p==='C' && datum.g==='Low RDM1'"}],"mark":{"type":"text"},"encoding":{"x":{"field":"t","type":"quantitative","axis":{"title":"Time (months)","values":[0,25,50,75,100,125,150,175],"labelOverlap":false,"titleX":92}},"y":{"datum":-42.8,"type":"quantitative","axis":{"title":"Relapse Survival (probability)","values":[0,20,40,60,80,100],"labelOverlap":false,"titleY":76}},"text":{"field":"n"}}}
]}
],"spacing":86,"bounds":"flush","resolve":{"scale":{"x":"independent","y":"independent"}}},
{"hconcat":[
{"width":160,"height":136,"data":{"values":[{}]},
"layer":[
{"data":{"name":"km"},"transform":[{"filter":"datum.p==='D'"}],"mark":{"type":"line","interpolate":"step-after","strokeWidth":1.3},
"encoding":{"x":{"field":"t","type":"quantitative","scale":{"domain":[-9,186],"nice":false,"zero":false},"axis":{"title":"Time (months)","values":[0,25,50,75,100,125,150,175],"labelOverlap":false,"titleX":83}},
"y":{"field":"s","type":"quantitative","scale":{"domain":[-5.5,106],"nice":false,"zero":false},"axis":{"title":"Overall Survival (probability)","values":[0,20,40,60,80,100],"labelOverlap":false,"titleY":67}},
"color":{"field":"g","type":"nominal","legend":null}}},
{"data":{"name":"censor"},"transform":[{"filter":"datum.p==='D'"}],"mark":{"type":"tick","orient":"vertical","size":4,"thickness":1},"encoding":{"x":{"field":"t","type":"quantitative","axis":{"title":"Time (months)","values":[0,25,50,75,100,125,150,175],"labelOverlap":false,"titleX":83}},"y":{"field":"s","type":"quantitative","axis":{"title":"Overall Survival (probability)","values":[0,20,40,60,80,100],"labelOverlap":false,"titleY":67}},"color":{"field":"g","type":"nominal","legend":null}}},
{"mark":{"type":"text","text":"Multiple HCC","fontSize":13.5},"encoding":{"x":{"datum":94.6,"type":"quantitative","axis":{"title":"Time (months)","values":[0,25,50,75,100,125,150,175],"labelOverlap":false,"titleX":83}},"y":{"datum":115,"type":"quantitative","axis":{"title":"Overall Survival (probability)","values":[0,20,40,60,80,100],"labelOverlap":false,"titleY":67}}}},
{"mark":{"type":"text","text":"D","fontWeight":"bold","fontSize":15,"color":"#111"},"encoding":{"x":{"datum":-70,"type":"quantitative","axis":{"title":"Time (months)","values":[0,25,50,75,100,125,150,175],"labelOverlap":false,"titleX":83}},"y":{"datum":114,"type":"quantitative","axis":{"title":"Overall Survival (probability)","values":[0,20,40,60,80,100],"labelOverlap":false,"titleY":67}}}},
{"mark":{"type":"rule","strokeWidth":2.5},"encoding":{"x":{"datum":80,"type":"quantitative","axis":{"title":"Time (months)","values":[0,25,50,75,100,125,150,175],"labelOverlap":false,"titleX":83}},"x2":{"datum":98.3},"y":{"datum":92.9,"type":"quantitative","axis":{"title":"Overall Survival (probability)","values":[0,20,40,60,80,100],"labelOverlap":false,"titleY":67}},"color":{"datum":"High RDM1","type":"nominal","legend":null}}},
{"mark":{"type":"rule","strokeWidth":2.5},"encoding":{"x":{"datum":80,"type":"quantitative","axis":{"title":"Time (months)","values":[0,25,50,75,100,125,150,175],"labelOverlap":false,"titleX":83}},"x2":{"datum":98.3},"y":{"datum":77.3,"type":"quantitative","axis":{"title":"Overall Survival (probability)","values":[0,20,40,60,80,100],"labelOverlap":false,"titleY":67}},"color":{"datum":"Low RDM1","type":"nominal","legend":null}}},
{"mark":{"type":"text","text":"High RDM1","align":"left","fontSize":12.7},"encoding":{"x":{"datum":100.7,"type":"quantitative","axis":{"title":"Time (months)","values":[0,25,50,75,100,125,150,175],"labelOverlap":false,"titleX":83}},"y":{"datum":92.9,"type":"quantitative","axis":{"title":"Overall Survival (probability)","values":[0,20,40,60,80,100],"labelOverlap":false,"titleY":67}},"color":{"datum":"High RDM1","type":"nominal","legend":null}}},
{"mark":{"type":"text","text":"Low\u00a0 RDM1","align":"left","fontSize":12.7},"encoding":{"x":{"datum":100.7,"type":"quantitative","axis":{"title":"Time (months)","values":[0,25,50,75,100,125,150,175],"labelOverlap":false,"titleX":83}},"y":{"datum":77.3,"type":"quantitative","axis":{"title":"Overall Survival (probability)","values":[0,20,40,60,80,100],"labelOverlap":false,"titleY":67}},"color":{"datum":"Low RDM1","type":"nominal","legend":null}}},
{"mark":{"type":"text","text":"P","align":"right","fontStyle":"italic","fontSize":13.5},"encoding":{"x":{"datum":94.6,"type":"quantitative","axis":{"title":"Time (months)","values":[0,25,50,75,100,125,150,175],"labelOverlap":false,"titleX":83}},"y":{"datum":58.5,"type":"quantitative","axis":{"title":"Overall Survival (probability)","values":[0,20,40,60,80,100],"labelOverlap":false,"titleY":67}}}},
{"mark":{"type":"text","text":"< 0.001","align":"left","fontSize":13.5},"encoding":{"x":{"datum":99.5,"type":"quantitative","axis":{"title":"Time (months)","values":[0,25,50,75,100,125,150,175],"labelOverlap":false,"titleX":83}},"y":{"datum":58.5,"type":"quantitative","axis":{"title":"Overall Survival (probability)","values":[0,20,40,60,80,100],"labelOverlap":false,"titleY":67}}}},
{"mark":{"type":"text","text":"No. at risk","align":"left","fontSize":11.2},"encoding":{"x":{"datum":-83,"type":"quantitative","axis":{"title":"Time (months)","values":[0,25,50,75,100,125,150,175],"labelOverlap":false,"titleX":83}},"y":{"datum":-26,"type":"quantitative","axis":{"title":"Overall Survival (probability)","values":[0,20,40,60,80,100],"labelOverlap":false,"titleY":67}}}},
{"mark":{"type":"text","text":"High RDM1","align":"left"},"encoding":{"x":{"datum":-83,"type":"quantitative","axis":{"title":"Time (months)","values":[0,25,50,75,100,125,150,175],"labelOverlap":false,"titleX":83}},"y":{"datum":-36.6,"type":"quantitative","axis":{"title":"Overall Survival (probability)","values":[0,20,40,60,80,100],"labelOverlap":false,"titleY":67}}}},
{"mark":{"type":"text","text":"Low\u00a0 RDM1","align":"left"},"encoding":{"x":{"datum":-83,"type":"quantitative","axis":{"title":"Time (months)","values":[0,25,50,75,100,125,150,175],"labelOverlap":false,"titleX":83}},"y":{"datum":-44.8,"type":"quantitative","axis":{"title":"Overall Survival (probability)","values":[0,20,40,60,80,100],"labelOverlap":false,"titleY":67}}}},
{"data":{"name":"risk"},"transform":[{"filter":"datum.p==='D' && datum.g==='High RDM1'"}],"mark":{"type":"text"},"encoding":{"x":{"field":"t","type":"quantitative","axis":{"title":"Time (months)","values":[0,25,50,75,100,125,150,175],"labelOverlap":false,"titleX":83}},"y":{"datum":-36.6,"type":"quantitative","axis":{"title":"Overall Survival (probability)","values":[0,20,40,60,80,100],"labelOverlap":false,"titleY":67}},"text":{"field":"n"}}},
{"data":{"name":"risk"},"transform":[{"filter":"datum.p==='D' && datum.g==='Low RDM1'"}],"mark":{"type":"text"},"encoding":{"x":{"field":"t","type":"quantitative","axis":{"title":"Time (months)","values":[0,25,50,75,100,125,150,175],"labelOverlap":false,"titleX":83}},"y":{"datum":-44.8,"type":"quantitative","axis":{"title":"Overall Survival (probability)","values":[0,20,40,60,80,100],"labelOverlap":false,"titleY":67}},"text":{"field":"n"}}}
]},
{"width":163,"height":136,"data":{"values":[{}]},
"layer":[
{"data":{"name":"km"},"transform":[{"filter":"datum.p==='E'"}],"mark":{"type":"line","interpolate":"step-after","strokeWidth":1.3},
"encoding":{"x":{"field":"t","type":"quantitative","scale":{"domain":[-9,186],"nice":false,"zero":false},"axis":{"title":"Time (months)","values":[0,25,50,75,100,125,150,175],"labelOverlap":false,"titleX":87}},
"y":{"field":"s","type":"quantitative","scale":{"domain":[-5.5,106],"nice":false,"zero":false},"axis":{"title":"Overall Survival (probability)","values":[0,20,40,60,80,100],"labelOverlap":false,"titleY":68.5}},
"color":{"field":"g","type":"nominal","legend":null}}},
{"data":{"name":"censor"},"transform":[{"filter":"datum.p==='E'"}],"mark":{"type":"tick","orient":"vertical","size":4,"thickness":1},"encoding":{"x":{"field":"t","type":"quantitative","axis":{"title":"Time (months)","values":[0,25,50,75,100,125,150,175],"labelOverlap":false,"titleX":87}},"y":{"field":"s","type":"quantitative","axis":{"title":"Overall Survival (probability)","values":[0,20,40,60,80,100],"labelOverlap":false,"titleY":68.5}},"color":{"field":"g","type":"nominal","legend":null}}},
{"mark":{"type":"text","text":"TNM II-IV","fontSize":13.5},"encoding":{"x":{"datum":92.7,"type":"quantitative","axis":{"title":"Time (months)","values":[0,25,50,75,100,125,150,175],"labelOverlap":false,"titleX":87}},"y":{"datum":115,"type":"quantitative","axis":{"title":"Overall Survival (probability)","values":[0,20,40,60,80,100],"labelOverlap":false,"titleY":68.5}}}},
{"mark":{"type":"rule","strokeWidth":2.5},"encoding":{"x":{"datum":80.7,"type":"quantitative","axis":{"title":"Time (months)","values":[0,25,50,75,100,125,150,175],"labelOverlap":false,"titleX":87}},"x2":{"datum":99.9},"y":{"datum":92.9,"type":"quantitative","axis":{"title":"Overall Survival (probability)","values":[0,20,40,60,80,100],"labelOverlap":false,"titleY":68.5}},"color":{"datum":"High RDM1","type":"nominal","legend":null}}},
{"mark":{"type":"rule","strokeWidth":2.5},"encoding":{"x":{"datum":80.7,"type":"quantitative","axis":{"title":"Time (months)","values":[0,25,50,75,100,125,150,175],"labelOverlap":false,"titleX":87}},"x2":{"datum":99.9},"y":{"datum":77.3,"type":"quantitative","axis":{"title":"Overall Survival (probability)","values":[0,20,40,60,80,100],"labelOverlap":false,"titleY":68.5}},"color":{"datum":"Low RDM1","type":"nominal","legend":null}}},
{"mark":{"type":"text","text":"High RDM1","align":"left","fontSize":12.7},"encoding":{"x":{"datum":101,"type":"quantitative","axis":{"title":"Time (months)","values":[0,25,50,75,100,125,150,175],"labelOverlap":false,"titleX":87}},"y":{"datum":92.9,"type":"quantitative","axis":{"title":"Overall Survival (probability)","values":[0,20,40,60,80,100],"labelOverlap":false,"titleY":68.5}},"color":{"datum":"High RDM1","type":"nominal","legend":null}}},
{"mark":{"type":"text","text":"Low\u00a0 RDM1","align":"left","fontSize":12.7},"encoding":{"x":{"datum":101,"type":"quantitative","axis":{"title":"Time (months)","values":[0,25,50,75,100,125,150,175],"labelOverlap":false,"titleX":87}},"y":{"datum":77.3,"type":"quantitative","axis":{"title":"Overall Survival (probability)","values":[0,20,40,60,80,100],"labelOverlap":false,"titleY":68.5}},"color":{"datum":"Low RDM1","type":"nominal","legend":null}}},
{"mark":{"type":"text","text":"P","align":"right","fontStyle":"italic","fontSize":13.5},"encoding":{"x":{"datum":102.3,"type":"quantitative","axis":{"title":"Time (months)","values":[0,25,50,75,100,125,150,175],"labelOverlap":false,"titleX":87}},"y":{"datum":58.5,"type":"quantitative","axis":{"title":"Overall Survival (probability)","values":[0,20,40,60,80,100],"labelOverlap":false,"titleY":68.5}}}},
{"mark":{"type":"text","text":"< 0.001","align":"left","fontSize":13.5},"encoding":{"x":{"datum":107,"type":"quantitative","axis":{"title":"Time (months)","values":[0,25,50,75,100,125,150,175],"labelOverlap":false,"titleX":87}},"y":{"datum":58.5,"type":"quantitative","axis":{"title":"Overall Survival (probability)","values":[0,20,40,60,80,100],"labelOverlap":false,"titleY":68.5}}}},
{"mark":{"type":"text","text":"No. at risk","align":"left","fontSize":11.2},"encoding":{"x":{"datum":-79.6,"type":"quantitative","axis":{"title":"Time (months)","values":[0,25,50,75,100,125,150,175],"labelOverlap":false,"titleX":87}},"y":{"datum":-26,"type":"quantitative","axis":{"title":"Overall Survival (probability)","values":[0,20,40,60,80,100],"labelOverlap":false,"titleY":68.5}}}},
{"mark":{"type":"text","text":"High RDM1","align":"left"},"encoding":{"x":{"datum":-79.6,"type":"quantitative","axis":{"title":"Time (months)","values":[0,25,50,75,100,125,150,175],"labelOverlap":false,"titleX":87}},"y":{"datum":-36.6,"type":"quantitative","axis":{"title":"Overall Survival (probability)","values":[0,20,40,60,80,100],"labelOverlap":false,"titleY":68.5}}}},
{"mark":{"type":"text","text":"Low\u00a0 RDM1","align":"left"},"encoding":{"x":{"datum":-79.6,"type":"quantitative","axis":{"title":"Time (months)","values":[0,25,50,75,100,125,150,175],"labelOverlap":false,"titleX":87}},"y":{"datum":-44.8,"type":"quantitative","axis":{"title":"Overall Survival (probability)","values":[0,20,40,60,80,100],"labelOverlap":false,"titleY":68.5}}}},
{"data":{"name":"risk"},"transform":[{"filter":"datum.p==='E' && datum.g==='High RDM1'"}],"mark":{"type":"text"},"encoding":{"x":{"field":"t","type":"quantitative","axis":{"title":"Time (months)","values":[0,25,50,75,100,125,150,175],"labelOverlap":false,"titleX":87}},"y":{"datum":-36.6,"type":"quantitative","axis":{"title":"Overall Survival (probability)","values":[0,20,40,60,80,100],"labelOverlap":false,"titleY":68.5}},"text":{"field":"n"}}},
{"data":{"name":"risk"},"transform":[{"filter":"datum.p==='E' && datum.g==='Low RDM1'"}],"mark":{"type":"text"},"encoding":{"x":{"field":"t","type":"quantitative","axis":{"title":"Time (months)","values":[0,25,50,75,100,125,150,175],"labelOverlap":false,"titleX":87}},"y":{"datum":-44.8,"type":"quantitative","axis":{"title":"Overall Survival (probability)","values":[0,20,40,60,80,100],"labelOverlap":false,"titleY":68.5}},"text":{"field":"n"}}}
]},
{"width":160,"height":136,"data":{"values":[{}]},
"layer":[
{"data":{"name":"km"},"transform":[{"filter":"datum.p==='F'"}],"mark":{"type":"line","interpolate":"step-after","strokeWidth":1.3},
"encoding":{"x":{"field":"t","type":"quantitative","scale":{"domain":[-9,186],"nice":false,"zero":false},"axis":{"title":"Time (months)","values":[0,25,50,75,100,125,150,175],"labelOverlap":false,"titleX":86}},
"y":{"field":"s","type":"quantitative","scale":{"domain":[-5.5,106],"nice":false,"zero":false},"axis":{"title":"Overall Survival (probability)","values":[0,20,40,60,80,100],"labelOverlap":false,"titleY":68}},
"color":{"field":"g","type":"nominal","legend":null}}},
{"data":{"name":"censor"},"transform":[{"filter":"datum.p==='F'"}],"mark":{"type":"tick","orient":"vertical","size":4,"thickness":1},"encoding":{"x":{"field":"t","type":"quantitative","axis":{"title":"Time (months)","values":[0,25,50,75,100,125,150,175],"labelOverlap":false,"titleX":86}},"y":{"field":"s","type":"quantitative","axis":{"title":"Overall Survival (probability)","values":[0,20,40,60,80,100],"labelOverlap":false,"titleY":68}},"color":{"field":"g","type":"nominal","legend":null}}},
{"mark":{"type":"text","text":"Tumor Size≥5 cm","fontSize":13.5},"encoding":{"x":{"datum":88.5,"type":"quantitative","axis":{"title":"Time (months)","values":[0,25,50,75,100,125,150,175],"labelOverlap":false,"titleX":86}},"y":{"datum":115,"type":"quantitative","axis":{"title":"Overall Survival (probability)","values":[0,20,40,60,80,100],"labelOverlap":false,"titleY":68}}}},
{"mark":{"type":"rule","strokeWidth":2.5},"encoding":{"x":{"datum":81,"type":"quantitative","axis":{"title":"Time (months)","values":[0,25,50,75,100,125,150,175],"labelOverlap":false,"titleX":86}},"x2":{"datum":99.5},"y":{"datum":92.9,"type":"quantitative","axis":{"title":"Overall Survival (probability)","values":[0,20,40,60,80,100],"labelOverlap":false,"titleY":68}},"color":{"datum":"High RDM1","type":"nominal","legend":null}}},
{"mark":{"type":"rule","strokeWidth":2.5},"encoding":{"x":{"datum":81,"type":"quantitative","axis":{"title":"Time (months)","values":[0,25,50,75,100,125,150,175],"labelOverlap":false,"titleX":86}},"x2":{"datum":99.5},"y":{"datum":77.3,"type":"quantitative","axis":{"title":"Overall Survival (probability)","values":[0,20,40,60,80,100],"labelOverlap":false,"titleY":68}},"color":{"datum":"Low RDM1","type":"nominal","legend":null}}},
{"mark":{"type":"text","text":"High RDM1","align":"left","fontSize":12.7},"encoding":{"x":{"datum":102,"type":"quantitative","axis":{"title":"Time (months)","values":[0,25,50,75,100,125,150,175],"labelOverlap":false,"titleX":86}},"y":{"datum":92.9,"type":"quantitative","axis":{"title":"Overall Survival (probability)","values":[0,20,40,60,80,100],"labelOverlap":false,"titleY":68}},"color":{"datum":"High RDM1","type":"nominal","legend":null}}},
{"mark":{"type":"text","text":"Low\u00a0 RDM1","align":"left","fontSize":12.7},"encoding":{"x":{"datum":102,"type":"quantitative","axis":{"title":"Time (months)","values":[0,25,50,75,100,125,150,175],"labelOverlap":false,"titleX":86}},"y":{"datum":77.3,"type":"quantitative","axis":{"title":"Overall Survival (probability)","values":[0,20,40,60,80,100],"labelOverlap":false,"titleY":68}},"color":{"datum":"Low RDM1","type":"nominal","legend":null}}},
{"mark":{"type":"text","text":"P","align":"right","fontStyle":"italic","fontSize":13.5},"encoding":{"x":{"datum":102,"type":"quantitative","axis":{"title":"Time (months)","values":[0,25,50,75,100,125,150,175],"labelOverlap":false,"titleX":86}},"y":{"datum":58.5,"type":"quantitative","axis":{"title":"Overall Survival (probability)","values":[0,20,40,60,80,100],"labelOverlap":false,"titleY":68}}}},
{"mark":{"type":"text","text":"< 0.001","align":"left","fontSize":13.5},"encoding":{"x":{"datum":106.8,"type":"quantitative","axis":{"title":"Time (months)","values":[0,25,50,75,100,125,150,175],"labelOverlap":false,"titleX":86}},"y":{"datum":58.5,"type":"quantitative","axis":{"title":"Overall Survival (probability)","values":[0,20,40,60,80,100],"labelOverlap":false,"titleY":68}}}},
{"mark":{"type":"text","text":"No. at risk","align":"left","fontSize":11.2},"encoding":{"x":{"datum":-83.4,"type":"quantitative","axis":{"title":"Time (months)","values":[0,25,50,75,100,125,150,175],"labelOverlap":false,"titleX":86}},"y":{"datum":-26,"type":"quantitative","axis":{"title":"Overall Survival (probability)","values":[0,20,40,60,80,100],"labelOverlap":false,"titleY":68}}}},
{"mark":{"type":"text","text":"High RDM1","align":"left"},"encoding":{"x":{"datum":-83.4,"type":"quantitative","axis":{"title":"Time (months)","values":[0,25,50,75,100,125,150,175],"labelOverlap":false,"titleX":86}},"y":{"datum":-36.6,"type":"quantitative","axis":{"title":"Overall Survival (probability)","values":[0,20,40,60,80,100],"labelOverlap":false,"titleY":68}}}},
{"mark":{"type":"text","text":"Low\u00a0 RDM1","align":"left"},"encoding":{"x":{"datum":-83.4,"type":"quantitative","axis":{"title":"Time (months)","values":[0,25,50,75,100,125,150,175],"labelOverlap":false,"titleX":86}},"y":{"datum":-44.8,"type":"quantitative","axis":{"title":"Overall Survival (probability)","values":[0,20,40,60,80,100],"labelOverlap":false,"titleY":68}}}},
{"data":{"name":"risk"},"transform":[{"filter":"datum.p==='F' && datum.g==='High RDM1'"}],"mark":{"type":"text"},"encoding":{"x":{"field":"t","type":"quantitative","axis":{"title":"Time (months)","values":[0,25,50,75,100,125,150,175],"labelOverlap":false,"titleX":86}},"y":{"datum":-36.6,"type":"quantitative","axis":{"title":"Overall Survival (probability)","values":[0,20,40,60,80,100],"labelOverlap":false,"titleY":68}},"text":{"field":"n"}}},
{"data":{"name":"risk"},"transform":[{"filter":"datum.p==='F' && datum.g==='Low RDM1'"}],"mark":{"type":"text"},"encoding":{"x":{"field":"t","type":"quantitative","axis":{"title":"Time (months)","values":[0,25,50,75,100,125,150,175],"labelOverlap":false,"titleX":86}},"y":{"datum":-44.8,"type":"quantitative","axis":{"title":"Overall Survival (probability)","values":[0,20,40,60,80,100],"labelOverlap":false,"titleY":68}},"text":{"field":"n"}}}
]}
],"spacing":82,"bounds":"flush","resolve":{"scale":{"x":"independent","y":"independent"}}}
]
}
